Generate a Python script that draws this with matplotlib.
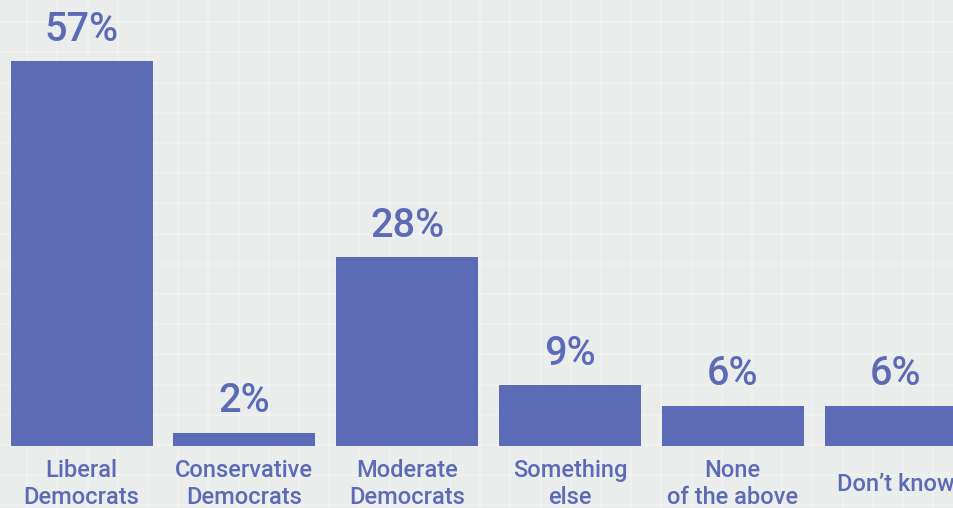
import matplotlib
matplotlib.use('Agg')
import matplotlib.pyplot as plt
import numpy as np

categories = ['Liberal\nDemocrats', 'Conservative\nDemocrats', 'Moderate\nDemocrats',
              'Something\nelse', 'None\nof the above', "Don\u2019t know"]
values = [57, 2, 28, 9, 6, 6]
value_labels = ['57%', '2%', '28%', '9%', '6%', '6%']

BLUE = '#5c6bb5'
BG = '#eaedec'

W, H = 954, 508
fig = plt.figure(figsize=(W / 100, H / 100), dpi=100)
fig.patch.set_facecolor(BG)

# faint background grid
bg = fig.add_axes([0, 0, 1, 1], zorder=0)
bg.set_xlim(0, W)
bg.set_ylim(H, 0)
bg.set_facecolor(BG)
for gx in np.arange(-3, W, 30.2):
    bg.axvline(gx, color='white', lw=1.2, alpha=0.3)
for gy in np.arange(-8, H, 30.2):
    bg.axhline(gy, color='white', lw=1.2, alpha=0.3)
bg.axis('off')

# main bar axes, bottom at bar baseline (y=446 px)
base_px = 446
ax = fig.add_axes([0, (H - base_px) / H, 1, base_px / H], zorder=1)
ax.patch.set_alpha(0)
step = 162.8
ax.set_xlim(-81.5 / step, (W - 81.5) / step)
ax.set_ylim(0, base_px / 6.75)

x = np.arange(len(categories))
ax.bar(x, values, width=142 / step, color=BLUE)

font = 'Roboto'
for xi, v, lab in zip(x, values, value_labels):
    ax.annotate(lab, (xi, v), xytext=(0, 14.5), textcoords='offset points',
                ha='center', va='baseline', fontsize=28.5, fontweight='medium',
                color=BLUE, family=font)

for xi, cat in zip(x, categories):
    ax.annotate(cat, (xi, 0), xycoords=('data', 'data'), xytext=(0, -27.5),
                textcoords='offset points', ha='center', va='center',
                fontsize=17, fontweight='medium', color=BLUE, family=font,
                linespacing=1.22, annotation_clip=False)

ax.axis('off')
fig.savefig('out.png', dpi=100, facecolor=BG)
